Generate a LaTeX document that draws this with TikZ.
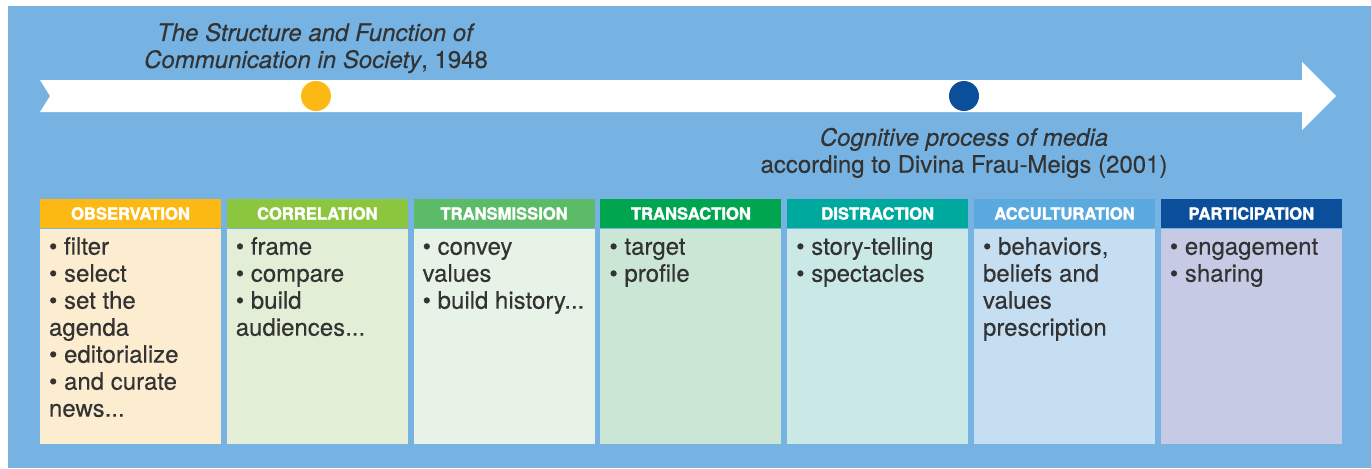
\documentclass[tikz,border=0pt]{standalone}
\usepackage{fontspec}
\setmainfont{TeX Gyre Heros}[FakeBold=0.3]
\newfontfamily\headfont{TeX Gyre Heros}[BoldFeatures={FakeBold=1.8}]
\usepackage{xcolor}
\usepackage{tikz}
\usetikzlibrary{positioning}

\definecolor{bgblue}{HTML}{76B3E2}
\definecolor{ink}{HTML}{333333}
\definecolor{obsHead}{HTML}{FDB913}
\definecolor{obsFill}{HTML}{FDEDD0}
\definecolor{corHead}{HTML}{8CC63F}
\definecolor{corFill}{HTML}{E2EFD6}
\definecolor{trmHead}{HTML}{5CBB67}
\definecolor{trmFill}{HTML}{E8F3E8}
\definecolor{traHead}{HTML}{00A54F}
\definecolor{traFill}{HTML}{CBE6D5}
\definecolor{disHead}{HTML}{00A99E}
\definecolor{disFill}{HTML}{C9E8E6}
\definecolor{accHead}{HTML}{5AAADF}
\definecolor{accFill}{HTML}{C6DEF2}
\definecolor{parHead}{HTML}{0B4F9B}
\definecolor{parFill}{HTML}{C6CAE4}

\begin{document}
\begin{tikzpicture}[
    x=0.5pt, y=-0.5pt,
    node distance=2.5pt,
    head/.style={rectangle, fill=#1, text=white, font=\headfont\bfseries\fontsize{8.3}{10}\selectfont, minimum width=90.5pt, minimum height=14.5pt, inner sep=0pt},
    body/.style={rectangle, fill=#1, minimum width=90.5pt, minimum height=107.5pt, inner sep=0pt},
    items/.style={anchor=north west, align=left, inner sep=0pt, text=ink, font=\fontsize{12}{13.5}\selectfont},
    title/.style={align=center, inner sep=0pt, text=ink, font=\fontsize{12}{13.5}\selectfont},
    dot/.style={circle, fill=#1, minimum size=15pt, inner sep=0pt}
]

\useasboundingbox (0,0) rectangle (1371,468);
\fill[white] (0,0) rectangle (1371,468);
\fill[bgblue] (8,6) rectangle (1371,468);

\fill[white] (40,80) -- (1302,80) -- (1302,62) -- (1336,96) -- (1302,130) -- (1302,112) -- (40,112) -- (50,96) -- cycle;

\node[dot=obsHead] (dot1948) at (316,96) {};
\node[dot=parHead] (dot2001) at (964,96) {};

\node[title, above=3.5pt of dot1948] (title1948) {\textit{The Structure and Function of}\\\textit{Communication in Society}, 1948};
\node[title, below=8pt of dot2001] (title2001) {\textit{Cognitive process of media}\\according to Divina Frau-Meigs (2001)};

\node[head=obsHead] (obs) at (130.5,213.5) {OBSERVATION};
\node[head=corHead, right=of obs] (cor) {CORRELATION};
\node[head=trmHead, right=of cor] (trm) {TRANSMISSION};
\node[head=traHead, right=of trm] (tra) {TRANSACTION};
\node[head=disHead, right=of tra] (dis) {DISTRACTION};
\node[head=accHead, right=of dis] (acc) {ACCULTURATION};
\node[head=parHead, right=of acc] (par) {PARTICIPATION};

\node[body=obsFill, below=0pt of obs] (obsBody) {};
\node[body=corFill, below=0pt of cor] (corBody) {};
\node[body=trmFill, below=0pt of trm] (trmBody) {};
\node[body=traFill, below=0pt of tra] (traBody) {};
\node[body=disFill, below=0pt of dis] (disBody) {};
\node[body=accFill, below=0pt of acc] (accBody) {};
\node[body=parFill, below=0pt of par] (parBody) {};

\node[items] (obsText) at ([xshift=4.5pt, yshift=-3.5pt]obsBody.north west) {\strut• filter\\• select\\• set the\\agenda\\• editorialize\\• and curate\\news...};
\node[items] (corText) at ([xshift=4.5pt, yshift=-3.5pt]corBody.north west) {\strut• frame\\• compare\\• build\\audiences...};
\node[items] (trmText) at ([xshift=4.5pt, yshift=-3.5pt]trmBody.north west) {\strut• convey\\values\\• build history...};
\node[items] (traText) at ([xshift=4.5pt, yshift=-3.5pt]traBody.north west) {\strut• target\\• profile};
\node[items] (disText) at ([xshift=4.5pt, yshift=-3.5pt]disBody.north west) {\strut• story-telling\\• spectacles};
\node[items] (accText) at ([xshift=4.5pt, yshift=-3.5pt]accBody.north west) {\strut• behaviors,\\beliefs and\\values\\prescription};
\node[items] (parText) at ([xshift=4.5pt, yshift=-3.5pt]parBody.north west) {\strut• engagement\\• sharing};

\end{tikzpicture}
\end{document}
